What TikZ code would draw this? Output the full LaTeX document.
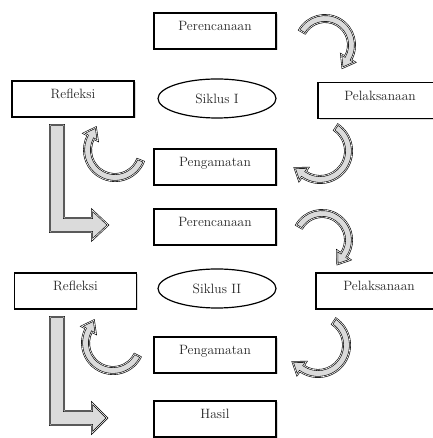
\documentclass[tikz,border=0pt]{standalone}
\usetikzlibrary{shapes, arrows, positioning, shadows}

% curved block arrow: centre, start angle, end angle, radius
\newcommand{\arcarrow}[4]{%
  \begin{scope}[shift={(#1)}, rotate=#3]
    \filldraw[blockarrow] ({#2-#3}:{#4+3.5}) arc[start angle={#2-#3}, end angle=0, radius={#4+3.5}]
      -- ({#4+8},0) -- (#4,-11) -- ({#4-8},0) -- ({#4-3.5},0)
      arc[start angle=0, end angle={#2-#3}, radius={#4-3.5}] -- cycle;
  \end{scope}}

\begin{document}
\begin{tikzpicture}[x=1pt, y=1pt]
\tikzstyle{stage} = [rectangle, draw, line width=1.2pt, fill=white, minimum width=122pt, minimum height=36pt,
  inner sep=3pt, text height=15pt, text depth=15pt, text=black!85, font=\fontsize{13.5}{15}\selectfont,
  drop shadow={shadow xshift=1.5pt, shadow yshift=-1.5pt, opacity=0.3}]
\tikzstyle{cycle} = [ellipse, draw, line width=1.2pt, minimum width=118pt, minimum height=39pt,
  text=black!85, font=\fontsize{13.5}{15}\selectfont]
\tikzstyle{blockarrow} = [draw=black, line width=0.6pt, double=white, double distance=0.6pt, fill=gray!28,
  drop shadow={shadow xshift=1pt, shadow yshift=-1pt, opacity=0.25}]

\useasboundingbox (0,0) rectangle (432,438);

% cycle I
\node[stage] (plan1) at (215,407) {Perencanaan};
\node[stage] (refl1) at (73,339) {Refleksi};
\node[cycle] (siklus1) at (217,339.5) {Siklus I};
\node[stage, minimum width=124pt] (act1) at (380,337.5) {Pelaksanaan};
\node[stage] (obs1) at (215,271) {Pengamatan};

% cycle II
\node[stage] (plan2) at (215,211) {Perencanaan};
\node[stage] (refl2) at (75.5,147) {Refleksi};
\node[cycle] (siklus2) at (217,149.5) {Siklus II};
\node[stage, minimum width=126pt] (act2) at (379,147) {Pelaksanaan};
\node[stage] (obs2) at (215,83) {Pengamatan};
\node[stage] (hasil) at (215,19) {Hasil};

% centres of the curved arrows
\coordinate (ca1) at (325,393);
\coordinate (cb1) at (320,287);
\coordinate (cc1) at (115,288);
\coordinate (ca2) at (322,198);
\coordinate (cb2) at (318,93);
\coordinate (cc2) at (113,95);

\arcarrow{ca1}{150}{-30}{26.5}
\arcarrow{cb1}{56}{-125}{28.5}
\arcarrow{cc1}{-22}{-208}{27.5}
\arcarrow{ca2}{150}{-35}{26.5}
\arcarrow{cb2}{56}{-125}{28.5}
\arcarrow{cc2}{-27}{-208}{27.5}

% L-shaped arrows from Refleksi
\filldraw[blockarrow] (50,313) -- (64,313) -- (64,220) -- (92,220) -- (92,228) -- (108,213)
  -- (92,198) -- (92,206) -- (50,206) -- cycle;
\filldraw[blockarrow] (50,121) -- (64,121) -- (64,27) -- (92,27) -- (92,35) -- (107,20)
  -- (92,5) -- (92,13) -- (50,13) -- cycle;
\end{tikzpicture}
\end{document}
